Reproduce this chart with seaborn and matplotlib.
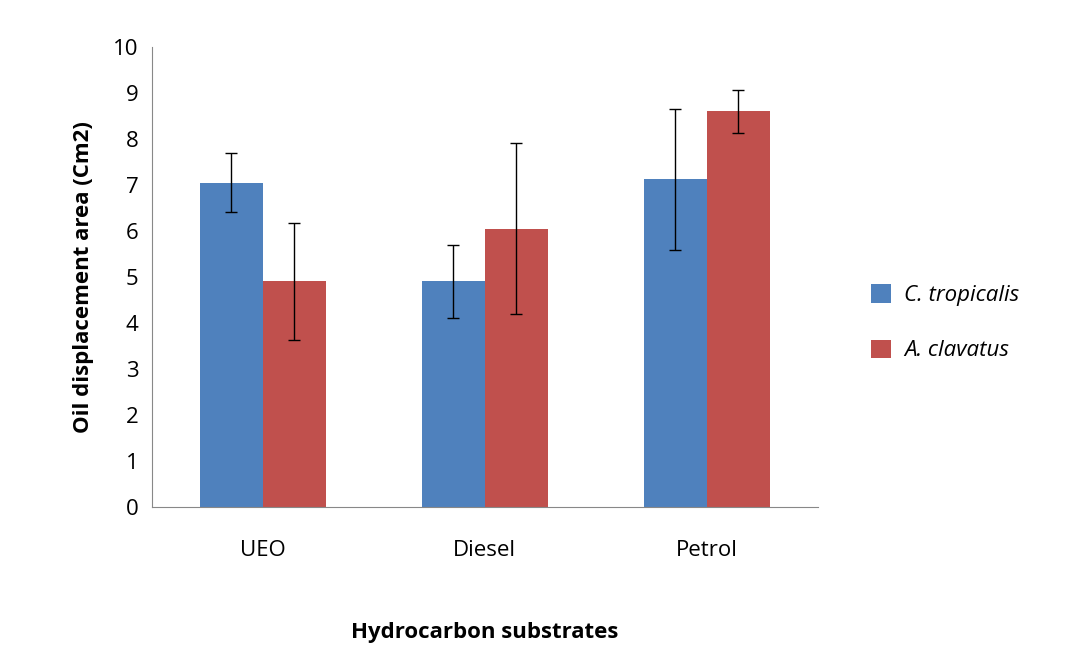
import matplotlib
matplotlib.use("Agg")
import matplotlib.pyplot as plt
import seaborn as sns
import pandas as pd
import numpy as np

categories = ["UEO", "Diesel", "Petrol"]
species = ["C. tropicalis", "A. clavatus"]
c_trop = [7.05, 4.9, 7.12]
c_trop_err = [0.65, 0.8, 1.53]
a_clav = [4.9, 6.05, 8.6]
a_clav_err = [1.27, 1.85, 0.47]

df = pd.DataFrame({
    "cat": categories * 2,
    "sp": [species[0]] * 3 + [species[1]] * 3,
    "val": c_trop + a_clav,
    "err": c_trop_err + a_clav_err,
})

sns.set_style("white")
plt.rcParams["font.family"] = ["Open Sans", "DejaVu Sans"]
plt.rcParams["text.color"] = "black"
plt.rcParams["axes.labelcolor"] = "black"
plt.rcParams["xtick.color"] = "black"
plt.rcParams["ytick.color"] = "black"

fig = plt.figure(figsize=(10.69, 6.6), dpi=100)
ax = fig.add_axes([0.142, 0.232, 0.623, 0.697])
sns.barplot(data=df, x="cat", y="val", hue="sp", order=categories, hue_order=species,
            palette=["#4F81BD", "#C0504D"], errorbar=None, width=0.57, saturation=1,
            linewidth=0, ax=ax)

bars = [p for p in ax.patches if p.get_height() > 0][:6]
errs = c_trop_err + a_clav_err
vals = c_trop + a_clav
for p, v, e in zip(bars, vals, errs):
    x = p.get_x() + p.get_width() / 2
    ax.errorbar(x, v, yerr=e, color="black", capsize=4, lw=1, capthick=1)

ax.set_ylim(0, 10)
ax.set_yticks(range(0, 11))
ax.set_xlim(-0.5, 2.5)
ax.set_xticks([0, 1, 2])
ax.set_xticks([-0.5, 0.5, 1.5, 2.5], minor=True)
ax.tick_params(axis="x", which="major", length=0, pad=24, labelsize=16)
ax.tick_params(axis="x", which="minor", length=6, direction="out", color="#888888")
ax.tick_params(axis="y", length=6, direction="out", labelsize=16, color="#888888")
for s in ["top", "right"]:
    ax.spines[s].set_visible(False)
for s in ["left", "bottom"]:
    ax.spines[s].set_color("#888888")
ax.set_xlabel("Hydrocarbon substrates", fontsize=16, fontweight="bold", labelpad=44)
ax.set_ylabel("Oil displacement area (Cm2)", fontsize=16, fontweight="bold", labelpad=14)

leg = ax.legend(loc="center left", bbox_to_anchor=(1.05, 0.4), frameon=False,
                fontsize=16, handlelength=0.9, handleheight=0.9, labelspacing=1.5,
                handletextpad=0.6)
for t in leg.get_texts():
    t.set_fontstyle("italic")

fig.savefig("out.png", dpi=100)
